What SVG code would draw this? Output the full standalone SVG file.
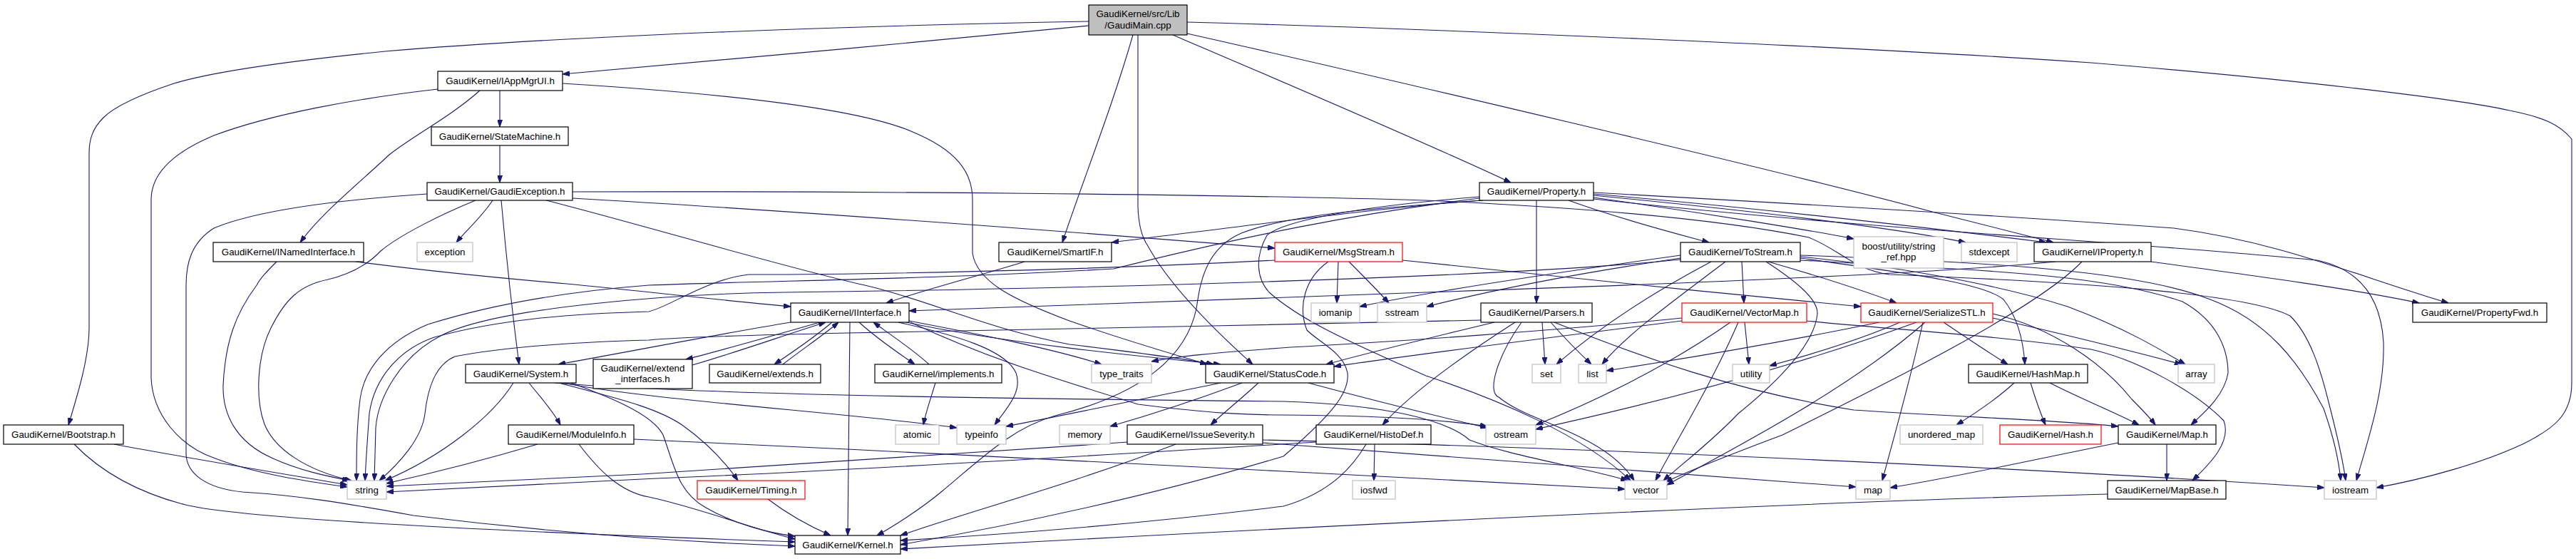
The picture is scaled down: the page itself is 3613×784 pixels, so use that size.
<svg xmlns="http://www.w3.org/2000/svg" width="3613" height="784" viewBox="0 0 3613 784">
<style>
.e{fill:none;stroke:#191970;stroke-width:1.1;marker-end:url(#ah)}
.b rect{fill:#fff;stroke:#000;stroke-width:1.2}
.g rect{fill:#fff;stroke:#bfbfbf;stroke-width:1.2}
.r rect{fill:#fff;stroke:#ff0000;stroke-width:1.2}
.m rect{fill:#bfbfbf;stroke:#000;stroke-width:1.2}
text{font-family:"Liberation Sans",Arial,Helvetica,sans-serif;font-size:13.33px;fill:#000;text-anchor:middle}
</style>
<defs>
<marker id="ah" markerWidth="10" markerHeight="7" refX="10" refY="3.5" orient="auto" markerUnits="userSpaceOnUse"><path d="M0,0 L10,3.5 L0,7 Z" fill="#191970" stroke="#191970" stroke-width="1"/></marker>
</defs>
<rect width="3613" height="784" fill="#fff"/>
<g id="connectors">
<path class="e" d="M1527,36 C1300,58 1000,86 789,104"/>
<path class="e" d="M1527,30 C1200,36 800,50 540,72 C420,84 300,100 244,117 C190,135 160,150 145,165 C130,180 125,195 125,215 L125,460 C125,500 110,550 96,596"/>
<path class="e" d="M1589,49 C1560,150 1520,250 1490,340"/>
<path class="e" d="M1596,49 L1596,290 C1597,320 1603,335 1610,345 C1640,400 1700,460 1757,511"/>
<path class="e" d="M1645,49 C1800,115 2000,200 2119,256"/>
<path class="e" d="M1665,47 C1900,100 2500,240 2710,297 C2780,315 2840,330 2880,340"/>
<path class="e" d="M1665,31 C2000,40 2600,65 2933,88 C3200,110 3440,137 3520,155 C3570,165 3590,175 3607,195 L3607,537 C3607,580 3585,600 3538,623 C3480,650 3400,672 3333,684"/>
<path class="e" d="M701,127 L701,178"/>
<path class="e" d="M673,127 C630,165 580,190 546,217 C500,260 450,300 421,340"/>
<path class="e" d="M614,125 C500,138 380,160 300,190 C240,215 212,245 212,280 L212,530 C214,580 250,625 302,643 C360,665 430,675 487,683"/>
<path class="e" d="M789,117 C1000,130 1200,150 1280,185 C1340,210 1364,240 1364,280 L1364,355 C1370,395 1420,420 1500,450 C1580,478 1640,495 1693,511"/>
<path class="e" d="M701,204 L701,256"/>
<path class="e" d="M691,281 C675,305 655,322 640,340"/>
<path class="e" d="M703,281 C710,360 720,450 728,511"/>
<path class="e" d="M599,272 C480,280 360,295 300,320 C268,340 261,370 261,400 L261,637 C262,665 290,685 340,690 C420,695 480,705 580,723 C760,745 950,760 1115,766"/>
<path class="e" d="M667,281 C620,300 560,330 534,352 C515,372 490,385 460,392 C420,400 400,420 380,460 C360,500 358,560 371,595 C385,630 430,660 493,674"/>
<path class="e" d="M766,281 C900,315 1100,375 1213,400 C1300,420 1380,460 1500,483 C1600,495 1660,503 1702,511"/>
<path class="e" d="M803,278 C1100,295 1500,325 1788,348"/>
<path class="e" d="M803,269 C1200,268 1700,272 2000,281 C2200,290 2400,305 2537,333 C2580,350 2600,378 2650,385 C2900,395 3150,410 3212,443 C3240,470 3255,520 3265,560 C3278,610 3286,645 3290,674"/>
<path class="e" d="M720,537 C690,585 620,640 540,674"/>
<path class="e" d="M742,537 C760,560 775,575 786,596"/>
<path class="e" d="M801,537 C850,555 915,580 930,610 C945,650 950,690 990,712 C1030,735 1080,748 1115,752"/>
<path class="e" d="M790,537 C900,560 1200,580 1342,600"/>
<path class="e" d="M784,537 C850,555 920,570 958,597 C990,620 1015,645 1035,674"/>
<path class="e" d="M778,537 C1000,555 1500,560 1800,563 C1950,568 2030,590 2061,617 C2120,640 2220,655 2283,674"/>
<path class="e" d="M754,623 C680,645 600,665 542,678"/>
<path class="e" d="M812,623 C840,660 870,690 910,697 C980,712 1050,740 1115,756"/>
<path class="e" d="M889,616 C1200,630 1600,650 1800,661 C2000,670 2150,678 2279,686"/>
<path class="e" d="M160,623 C250,640 400,665 487,680"/>
<path class="e" d="M104,623 C140,660 190,690 260,708 C330,725 600,742 1115,760"/>
<path class="e" d="M499,367 C600,380 700,390 795,398 C900,408 1000,420 1109,430"/>
<path class="e" d="M388,367 C375,380 365,390 360,400 C330,440 316,480 313,540 C312,580 330,620 383,643 C420,660 460,668 490,674"/>
<path class="e" d="M1437,367 C1380,385 1300,405 1243,425"/>
<path class="e" d="M1192,452 L1189,751"/>
<path class="e" d="M1271,452 C1400,480 1600,500 1712,511"/>
<path class="e" d="M1109,452 C1000,470 900,490 783,511"/>
<path class="e" d="M1150,452 C1080,472 1010,492 962,504"/>
<path class="e" d="M971,512 C1040,492 1100,470 1158,452"/>
<path class="e" d="M1167,452 C1140,475 1110,495 1086,511"/>
<path class="e" d="M1098,511 C1125,490 1155,470 1176,452"/>
<path class="e" d="M1205,452 C1230,475 1260,495 1283,511"/>
<path class="e" d="M1303,511 C1280,490 1250,470 1225,452"/>
<path class="e" d="M1275,450 C1380,470 1480,490 1545,511"/>
<path class="e" d="M1260,452 C1340,470 1410,490 1425,523 C1435,550 1410,575 1395,596"/>
<path class="e" d="M1277,452 C1380,500 1460,525 1596,567 C1700,580 1750,582 1800,582 C1900,583 2000,585 2086,598"/>
<path class="e" d="M1788,365 C1500,380 1200,385 1050,385 C990,392 940,430 910,437 C800,440 700,448 609,473 C560,490 525,530 518,580 C515,620 513,650 512,674"/>
<path class="e" d="M2075,278 C1900,300 1750,330 1562,377 C1300,392 1100,393 910,400 C780,410 680,430 600,455 C540,480 510,520 505,560 C500,600 500,640 500,674"/>
<path class="e" d="M2357,364 C2100,390 1500,405 1100,410 C950,412 700,430 620,470 C560,500 530,560 527,600 L525,674"/>
<path class="e" d="M2077,449 C1800,456 1400,462 1190,467 C1050,470 950,473 910,477 C800,480 700,488 638,500 C610,512 600,545 596,580 C592,615 560,650 532,674"/>
<path class="e" d="M1581,620 C1300,640 1000,660 900,665 C750,672 620,678 542,682"/>
<path class="e" d="M1846,620 C1600,635 1200,660 900,672 C750,680 620,686 542,690"/>
<path class="e" d="M1077,700 C1110,725 1140,740 1165,751"/>
<path class="e" d="M1835,537 C1920,560 2000,580 2086,600"/>
<path class="e" d="M1712,537 C1600,560 1480,585 1411,598"/>
<path class="e" d="M1742,537 C1680,560 1620,580 1557,598"/>
<path class="e" d="M1765,537 C1740,560 1715,580 1698,596"/>
<path class="e" d="M1649,623 C1500,680 1350,720 1263,751"/>
<path class="e" d="M1771,621 C2000,640 2300,660 2603,683"/>
<path class="e" d="M1771,617 C2300,630 2900,660 3260,684"/>
<path class="e" d="M1877,367 L1875,425"/>
<path class="e" d="M1892,367 C1910,385 1930,405 1948,425"/>
<path class="e" d="M1967,365 C2100,380 2400,410 2610,430"/>
<path class="e" d="M1863,367 C1830,390 1820,430 1833,463 C1850,480 1885,495 1890,523 C1893,550 1870,580 1800,640 C1600,700 1400,740 1263,764"/>
<path class="e" d="M2078,281 C1950,290 1800,310 1559,340"/>
<path class="e" d="M2080,281 C1950,290 1810,300 1741,327 C1700,345 1686,380 1680,420 C1672,490 1614,550 1480,583 C1420,600 1380,640 1320,690 C1290,715 1250,740 1230,751"/>
<path class="e" d="M2155,281 L2155,425"/>
<path class="e" d="M2200,281 C2280,310 2360,330 2397,340"/>
<path class="e" d="M2235,277 C2400,300 2550,325 2600,335"/>
<path class="e" d="M2235,274 C2450,295 2650,318 2757,340"/>
<path class="e" d="M2235,272 C2500,295 2750,325 2870,340"/>
<path class="e" d="M2235,270 C2450,282 2700,295 3049,320 C3200,340 3300,385 3434,425"/>
<path class="e" d="M2235,279 C2600,320 3000,340 3250,365 C3320,380 3340,430 3343,480 C3345,550 3320,620 3305,674"/>
<path class="e" d="M2075,276 C1900,290 1800,310 1777,330 C1760,360 1762,390 1780,410 C1820,445 1870,470 2000,527 C2100,560 2220,610 2287,674"/>
<path class="e" d="M2357,358 C2200,380 2000,410 1907,430"/>
<path class="e" d="M2357,362 C2200,385 2080,410 2001,430"/>
<path class="e" d="M2443,367 L2446,425"/>
<path class="e" d="M2480,367 C2560,390 2620,410 2660,425"/>
<path class="e" d="M2400,367 C2300,420 2230,470 2183,511"/>
<path class="e" d="M2420,367 C2350,420 2280,470 2247,511"/>
<path class="e" d="M2477,367 C2520,395 2550,420 2549,440 C2545,480 2500,530 2438,580 C2400,620 2360,650 2333,674"/>
<path class="e" d="M2525,362 C2650,380 2780,395 2810,420 C2830,445 2838,480 2840,511"/>
<path class="e" d="M2525,365 C2800,380 2950,385 3061,423 C3110,450 3125,490 3125,523 C3120,555 3090,580 3073,596"/>
<path class="e" d="M2525,360 C2650,372 2800,398 2900,430 C2980,460 3030,490 3065,511"/>
<path class="e" d="M2525,358 C2800,368 3000,380 3100,420 C3180,450 3224,507 3259,573 C3272,610 3280,640 3283,674"/>
<path class="e" d="M2636,452 C2500,480 2350,505 2253,520"/>
<path class="e" d="M2665,452 C2600,480 2530,500 2482,513"/>
<path class="e" d="M2688,452 C2500,520 2300,570 2154,602"/>
<path class="e" d="M2700,452 C2600,540 2450,620 2338,680"/>
<path class="e" d="M2697,452 C2680,530 2660,600 2640,674"/>
<path class="e" d="M2726,452 C2760,475 2790,495 2816,511"/>
<path class="e" d="M2795,440 C2880,460 2950,510 2990,560 C3005,575 3015,585 3023,596"/>
<path class="e" d="M2795,446 C2900,470 3000,495 3060,511"/>
<path class="e" d="M2447,452 L2453,511"/>
<path class="e" d="M2438,452 C2400,540 2350,620 2322,674"/>
<path class="e" d="M2427,452 C2330,520 2220,570 2154,596"/>
<path class="e" d="M2359,450 C2200,470 2000,495 1871,514"/>
<path class="e" d="M2534,450 C2650,462 2800,470 2933,490 C3000,505 3080,550 3119,590 C3130,620 3100,650 3075,674"/>
<path class="e" d="M2359,446 C2200,462 1950,480 1810,487 C1700,495 1650,500 1615,507"/>
<path class="e" d="M2096,452 C2000,475 1900,500 1860,511"/>
<path class="e" d="M2125,452 C2050,500 1980,550 1939,596"/>
<path class="e" d="M2163,452 L2167,511"/>
<path class="e" d="M2175,452 C2195,475 2215,495 2232,511"/>
<path class="e" d="M2134,452 C2100,500 2085,550 2102,557 C2130,580 2171,590 2220,615 C2260,635 2280,655 2292,674"/>
<path class="e" d="M2180,452 C2300,500 2438,550 2600,575 C2750,585 2900,590 2971,598"/>
<path class="e" d="M2825,537 C2800,560 2770,580 2744,596"/>
<path class="e" d="M2848,537 C2855,560 2862,580 2869,596"/>
<path class="e" d="M2875,537 C2920,560 2970,580 3000,596"/>
<path class="e" d="M2971,621 C2850,645 2750,668 2651,684"/>
<path class="e" d="M3039,623 L3039,674"/>
<path class="e" d="M2956,693 C2500,705 1900,735 1263,770"/>
<path class="e" d="M1928,623 L1927,674"/>
<path class="e" d="M1916,623 C1900,650 1870,690 1800,710 C1600,735 1400,750 1263,758"/>
<path class="e" d="M2883,367 C2700,385 2300,400 2000,410 C1700,420 1450,428 1275,436"/>
<path class="e" d="M3017,367 C3150,385 3300,405 3393,425"/>
<path class="e" d="M2920,367 C2850,440 2600,560 2500,610 C2420,640 2370,660 2336,676"/>
<path class="e" d="M1312,537 C1305,560 1298,580 1295,596"/>
</g>
<g id="n_main" class="m"><rect x="1527" y="7" width="138" height="42"/><text x="1596" y="24">GaudiKernel/src/Lib</text><text x="1596" y="40">/GaudiMain.cpp</text></g>
<g id="n_IAppMgrUI" class="b"><rect x="614" y="100" width="175" height="27"/><text x="701.5" y="118.2">GaudiKernel/IAppMgrUI.h</text></g>
<g id="n_StateMachine" class="b"><rect x="605" y="178" width="192" height="26"/><text x="701" y="195.7">GaudiKernel/StateMachine.h</text></g>
<g id="n_GaudiException" class="b"><rect x="599" y="256" width="204" height="25"/><text x="701" y="273.2">GaudiKernel/GaudiException.h</text></g>
<g id="n_INamedInterface" class="b"><rect x="299" y="340" width="211" height="27"/><text x="404.5" y="358.2">GaudiKernel/INamedInterface.h</text></g>
<g id="n_exception" class="g"><rect x="585" y="340" width="78" height="27"/><text x="624" y="358.2">exception</text></g>
<g id="n_SmartIF" class="b"><rect x="1401" y="340" width="158" height="27"/><text x="1480" y="358.2">GaudiKernel/SmartIF.h</text></g>
<g id="n_MsgStream" class="r"><rect x="1788" y="340" width="179" height="27"/><text x="1877.5" y="358.2">GaudiKernel/MsgStream.h</text></g>
<g id="n_Property" class="b"><rect x="2075" y="256" width="160" height="25"/><text x="2155" y="273.2">GaudiKernel/Property.h</text></g>
<g id="n_ToStream" class="b"><rect x="2357" y="340" width="168" height="27"/><text x="2441" y="358.2">GaudiKernel/ToStream.h</text></g>
<g id="n_boost" class="g"><rect x="2600" y="332" width="126" height="44"/><text x="2663" y="350">boost/utility/string</text><text x="2663" y="365">_ref.hpp</text></g>
<g id="n_stdexcept" class="g"><rect x="2751" y="340" width="78" height="27"/><text x="2790" y="358.2">stdexcept</text></g>
<g id="n_IProperty" class="b"><rect x="2853" y="340" width="164" height="27"/><text x="2935" y="358.2">GaudiKernel/IProperty.h</text></g>
<g id="n_IInterface" class="b"><rect x="1109" y="425" width="166" height="27"/><text x="1192" y="443.2">GaudiKernel/IInterface.h</text></g>
<g id="n_iomanip" class="g"><rect x="1839" y="425" width="68" height="27"/><text x="1873" y="443.2">iomanip</text></g>
<g id="n_sstream" class="g"><rect x="1932" y="425" width="69" height="27"/><text x="1966.5" y="443.2">sstream</text></g>
<g id="n_Parsers" class="b"><rect x="2077" y="425" width="156" height="27"/><text x="2155" y="443.2">GaudiKernel/Parsers.h</text></g>
<g id="n_VectorMap" class="r"><rect x="2359" y="425" width="175" height="27"/><text x="2446.5" y="443.2">GaudiKernel/VectorMap.h</text></g>
<g id="n_SerializeSTL" class="r"><rect x="2610" y="425" width="185" height="27"/><text x="2702.5" y="443.2">GaudiKernel/SerializeSTL.h</text></g>
<g id="n_PropertyFwd" class="b"><rect x="3384" y="425" width="188" height="27"/><text x="3478" y="443.2">GaudiKernel/PropertyFwd.h</text></g>
<g id="n_System" class="b"><rect x="653" y="511" width="155" height="26"/><text x="730.5" y="528.7">GaudiKernel/System.h</text></g>
<g id="n_extend_interfaces" class="b"><rect x="832" y="504" width="139" height="41"/><text x="901.5" y="521">GaudiKernel/extend</text><text x="901.5" y="536">_interfaces.h</text></g>
<g id="n_extends" class="b"><rect x="995" y="511" width="156" height="26"/><text x="1073" y="528.7">GaudiKernel/extends.h</text></g>
<g id="n_implements" class="b"><rect x="1227" y="511" width="178" height="26"/><text x="1316" y="528.7">GaudiKernel/implements.h</text></g>
<g id="n_type_traits" class="g"><rect x="1531" y="511" width="84" height="26"/><text x="1573" y="528.7">type_traits</text></g>
<g id="n_StatusCode" class="b"><rect x="1691" y="511" width="180" height="26"/><text x="1781" y="528.7">GaudiKernel/StatusCode.h</text></g>
<g id="n_set" class="g"><rect x="2149" y="511" width="40" height="26"/><text x="2169" y="528.7">set</text></g>
<g id="n_list" class="g"><rect x="2214" y="511" width="39" height="26"/><text x="2233.5" y="528.7">list</text></g>
<g id="n_utility" class="g"><rect x="2430" y="511" width="52" height="26"/><text x="2456" y="528.7">utility</text></g>
<g id="n_HashMap" class="b"><rect x="2761" y="511" width="167" height="26"/><text x="2844.5" y="528.7">GaudiKernel/HashMap.h</text></g>
<g id="n_array" class="g"><rect x="3055" y="511" width="51" height="26"/><text x="3080.5" y="528.7">array</text></g>
<g id="n_Bootstrap" class="b"><rect x="5" y="596" width="168" height="27"/><text x="89" y="614.2">GaudiKernel/Bootstrap.h</text></g>
<g id="n_ModuleInfo" class="b"><rect x="713" y="596" width="176" height="27"/><text x="801" y="614.2">GaudiKernel/ModuleInfo.h</text></g>
<g id="n_atomic" class="g"><rect x="1256" y="596" width="61" height="27"/><text x="1286.5" y="614.2">atomic</text></g>
<g id="n_typeinfo" class="g"><rect x="1342" y="596" width="69" height="27"/><text x="1376.5" y="614.2">typeinfo</text></g>
<g id="n_memory" class="g"><rect x="1486" y="596" width="71" height="27"/><text x="1521.5" y="614.2">memory</text></g>
<g id="n_IssueSeverity" class="b"><rect x="1581" y="596" width="190" height="27"/><text x="1676" y="614.2">GaudiKernel/IssueSeverity.h</text></g>
<g id="n_HistoDef" class="b"><rect x="1846" y="596" width="161" height="27"/><text x="1926.5" y="614.2">GaudiKernel/HistoDef.h</text></g>
<g id="n_ostream" class="g"><rect x="2084" y="596" width="70" height="27"/><text x="2119" y="614.2">ostream</text></g>
<g id="n_unordered_map" class="g"><rect x="2665" y="596" width="116" height="27"/><text x="2723" y="614.2">unordered_map</text></g>
<g id="n_Hash" class="r"><rect x="2805" y="596" width="142" height="27"/><text x="2876" y="614.2">GaudiKernel/Hash.h</text></g>
<g id="n_Map" class="b"><rect x="2971" y="596" width="137" height="27"/><text x="3039.5" y="614.2">GaudiKernel/Map.h</text></g>
<g id="n_string" class="g"><rect x="487" y="674" width="55" height="26"/><text x="514.5" y="691.7">string</text></g>
<g id="n_Timing" class="r"><rect x="978" y="674" width="151" height="26"/><text x="1053.5" y="691.7">GaudiKernel/Timing.h</text></g>
<g id="n_iosfwd" class="g"><rect x="1897" y="674" width="60" height="26"/><text x="1927" y="691.7">iosfwd</text></g>
<g id="n_vector" class="g"><rect x="2279" y="674" width="59" height="26"/><text x="2308.5" y="691.7">vector</text></g>
<g id="n_map" class="g"><rect x="2603" y="674" width="48" height="26"/><text x="2627" y="691.7">map</text></g>
<g id="n_MapBase" class="b"><rect x="2956" y="674" width="166" height="26"/><text x="3039" y="691.7">GaudiKernel/MapBase.h</text></g>
<g id="n_iostream" class="g"><rect x="3260" y="674" width="73" height="26"/><text x="3296.5" y="691.7">iostream</text></g>
<g id="n_Kernel" class="b"><rect x="1115" y="751" width="148" height="26"/><text x="1189" y="768.7">GaudiKernel/Kernel.h</text></g>
</svg>
